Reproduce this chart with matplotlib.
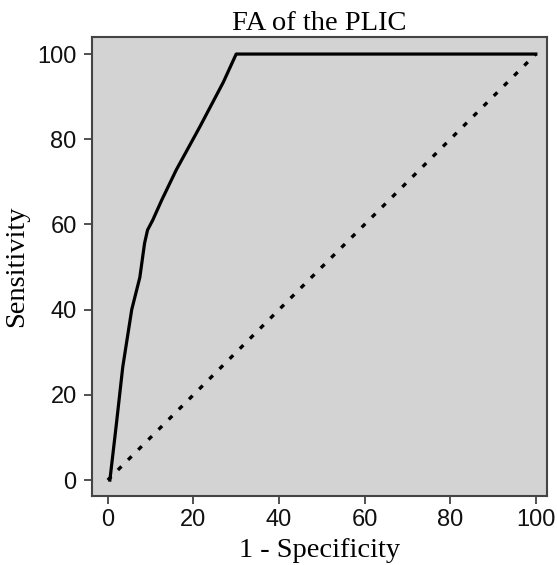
import matplotlib
matplotlib.use("Agg")
import matplotlib.pyplot as plt

# ROC curve points (1 - specificity, sensitivity)
fpr = [0.5, 2.0, 3.5, 5.6, 7.5, 8.6, 9.3, 10.5, 12.6, 16.0, 21.5, 27.0, 30.0, 100.0]
tpr = [0.0, 13.0, 26.5, 40.0, 47.6, 55.6, 58.7, 61.0, 65.7, 72.8, 82.9, 93.4, 100.0, 100.0]
ref_x = [0, 100]
ref_y = [0, 100]
ticks = [0, 20, 40, 60, 80, 100]

serif = ["Liberation Serif", "DejaVu Serif"]
sans = ["Liberation Sans", "DejaVu Sans"]

fig = plt.figure(figsize=(5.57, 5.65), dpi=100)
ax = fig.add_axes([0.165, 0.122, 0.817, 0.8125])
ax.set_facecolor("#d3d3d3")

ax.plot(ref_x, ref_y, color="black", lw=2.4, dashes=(1.5, 2.8), solid_capstyle="butt")
ax.plot(fpr, tpr, color="black", lw=2.3, solid_joinstyle="round")

ax.set_xlim(-3.7, 102.6)
ax.set_ylim(-3.75, 104)
ax.set_xticks(ticks)
ax.set_yticks(ticks)
ax.tick_params(direction="out", length=6, width=1.2, color="#333333",
               labelsize=17, pad=5)
ax.tick_params(axis="x", pad=3.5)
for lab in ax.get_xticklabels() + ax.get_yticklabels():
    lab.set_fontfamily(sans)
    lab.set_color("#111111")
for sp in ax.spines.values():
    sp.set_color("#444444")
    sp.set_linewidth(1.5)

ax.set_title("FA of the PLIC", fontfamily=serif, fontsize=20.5, pad=5)
ax.set_xlabel("1 - Specificity", fontfamily=serif, fontsize=20.5, labelpad=5)
ax.set_ylabel("Sensitivity", fontfamily=serif, fontsize=20.5, labelpad=6)

fig.savefig("out.png", dpi=100)
